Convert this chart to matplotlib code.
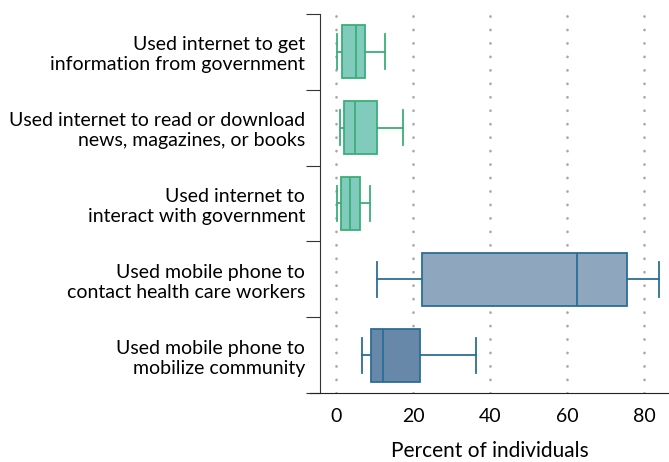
import numpy as np
import matplotlib.pyplot as plt

labels = ['Used internet to get\ninformation from government',
          'Used internet to read or download\nnews, magazines, or books',
          'Used internet to\ninteract with government',
          'Used mobile phone to\ncontact health care workers',
          'Used mobile phone to\nmobilize community']
whislo = [0.35, 1.1, 0.26, 10.6, 6.75]
q1 = [1.65, 2.2, 1.2, 22.4, 9.2]
med = [5.2, 4.9, 3.5, 62.5, 12.3]
q3 = [7.5, 10.7, 6.3, 75.5, 21.7]
whishi = [12.6, 17.4, 8.9, 83.9, 36.4]
fills = ['#80cbbb', '#80cbbb', '#80cbbb', '#8fa6bf', '#6788a8']
edges = ['#3cae78', '#3cae78', '#3cae78', '#2b6e95', '#2b6e95']
xticks = [0, 20, 40, 60, 80]

plt.rcParams['font.family'] = ['Lato', 'DejaVu Sans']

fig = plt.figure(figsize=(6.69, 4.62), dpi=100)
ax = fig.add_axes([310/669, 1 - 393/462, 359/669, (393 - 14)/462])

for xv in xticks:
    ax.axvline(xv, color='#a8a8a8', lw=1.9, ls=(0, (0.1, 5.0)),
               dash_capstyle='round', zorder=0)

for i in range(len(labels)):
    st = [dict(whislo=whislo[i], q1=q1[i], med=med[i], q3=q3[i],
               whishi=whishi[i], fliers=[])]
    c = edges[i]
    ax.bxp(st, positions=[i], widths=0.7, capwidths=0.46,
           orientation='horizontal', patch_artist=True,
           boxprops=dict(facecolor=fills[i], edgecolor=c, lw=1.3),
           medianprops=dict(color=c, lw=1.3),
           whiskerprops=dict(color=c, lw=1.3),
           capprops=dict(color=c, lw=1.3))

ax.set_xlim(-6.75, 86.4)
ax.set_ylim(4.5, -0.5)

ax.spines['top'].set_visible(False)
ax.spines['right'].set_visible(False)
ax.spines['left'].set_position(('data', -4.15))
ax.spines['left'].set_color('#333333')
ax.spines['bottom'].set_color('#222222')

ax.set_yticks(np.arange(-0.5, 5, 1))
ax.set_yticklabels([])
ax.set_yticks(range(len(labels)), minor=True)
ax.set_yticklabels(labels, minor=True, fontsize=14, linespacing=1.22)
ax.tick_params(axis='y', which='major', length=10, color='#333333', direction='out')
ax.tick_params(axis='y', which='minor', length=0, pad=10.8)

ax.set_xticks(xticks)
ax.set_xticklabels([str(v) for v in xticks], fontsize=14)
ax.tick_params(axis='x', length=0, pad=11)
ax.set_xlabel('Percent of individuals', fontsize=15, labelpad=11)

fig.savefig('out.png', dpi=100)
